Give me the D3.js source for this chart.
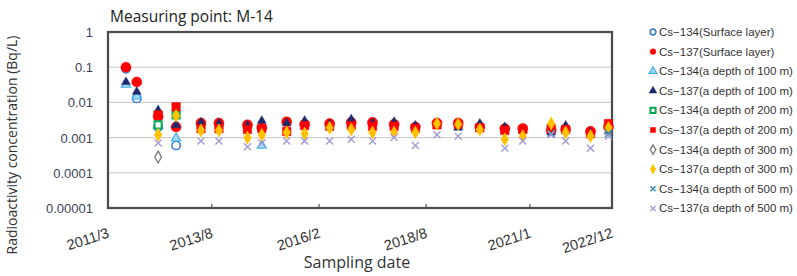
<!DOCTYPE html>
<html>
<head>
<meta charset="utf-8">
<script src="https://cdn.jsdelivr.net/npm/d3@7"></script>
<style>
  html, body { margin: 0; padding: 0; background: #fff; }
  svg { display: block; }
</style>
</head>
<body>
<script>
// SAMPLING DATES (year-month)
const dates = ["2011-08","2011-11","2012-05","2012-10","2013-05","2013-10","2014-06","2014-10",
  "2015-05","2015-10","2016-05","2016-11","2017-05","2017-11","2018-05","2018-11",
  "2019-05","2019-11","2020-06","2020-11","2021-07","2021-11","2022-06","2022-11"];

// VALUES IN Bq/L, null = not detected
const cs134Surface = [0.09, 0.013, 0.002, 0.0006, null, null, null, null, null, null, null, null,
  null, null, null, null, null, null, null, null, null, null, null, null];
const cs137Surface = [0.1, 0.038, 0.004, 0.002, 0.0026, 0.0026, 0.0023, 0.0019, 0.0028, 0.0024, 0.0025, 0.0027,
  0.0027, 0.0024, 0.002, 0.0026, 0.0026, 0.002, 0.0018, 0.0018, 0.0016, 0.0017, 0.0015, 0.002];
const cs134D100 = [0.032, 0.015, 0.0022, 0.00095, null, null, null, 0.0006, null, null, null, null,
  null, null, null, null, null, null, null, null, null, null, null, null];
const cs137D100 = [0.038, 0.02, 0.006, 0.0023, 0.0027, 0.0025, 0.0022, 0.003, 0.0026, 0.003, 0.0024, 0.0033,
  0.0026, 0.0028, 0.0022, 0.0026, 0.0019, 0.0025, 0.002, 0.0016, 0.0014, 0.0022, 0.0014, 0.0015];
const cs134D200 = [null, null, 0.0023, 0.0044, null, null, null, null, null, null, null, null,
  null, null, null, null, null, null, null, null, null, null, null, null];
const cs137D200 = [null, null, 0.0044, 0.0075, 0.0018, 0.0018, 0.0017, 0.0018, 0.0015, 0.0022, 0.0021, 0.0022,
  0.0021, 0.0021, 0.0018, 0.0023, 0.0024, 0.0019, 0.0016, 0.0017, 0.0018, 0.0017, 0.0013, 0.0025];
const cs134D300 = [null, null, 0.00028, null, null, null, null, null, null, null, null, null,
  null, null, null, null, null, null, null, null, null, null, null, null];
const cs137D300 = [null, null, 0.0012, 0.0042, 0.0016, 0.0016, 0.001, 0.0012, 0.0014, 0.0013, 0.0019, 0.0017,
  0.0014, 0.0014, 0.0014, 0.0025, 0.0024, 0.0017, 0.0009, 0.0011, 0.0025, 0.0014, 0.0011, 0.0019];
const cs134D500 = [null, null, null, null, null, null, null, null, null, null, null, null,
  null, null, null, null, null, null, null, null, 0.0013, null, null, 0.0013];
const cs137D500 = [null, null, 0.0007, null, 0.0008, 0.0008, 0.00055, 0.0007, 0.0008, 0.0008, 0.0008, 0.0009,
  0.0008, 0.001, 0.0006, 0.0012, 0.0011, null, 0.0005, 0.0008, 0.0012, 0.0008, 0.0005, 0.0011];

// LEGEND LABELS
const seriesNames = ["Cs\u2212134(Surface layer)", "Cs\u2212137(Surface layer)",
  "Cs\u2212134(a depth of 100 m)", "Cs\u2212137(a depth of 100 m)",
  "Cs\u2212134(a depth of 200 m)", "Cs\u2212137(a depth of 200 m)",
  "Cs\u2212134(a depth of 300 m)", "Cs\u2212137(a depth of 300 m)",
  "Cs\u2212134(a depth of 500 m)", "Cs\u2212137(a depth of 500 m)"];

// AXIS TICKS
const yTicks = [1, 0.1, 0.01, 0.001, 0.0001, 0.00001];
const yTickLabels = ["1", "0.1", "0.01", "0.001", "0.0001", "0.00001"];
const xTicks = ["2011-03", "2013-08", "2016-02", "2018-08", "2021-01", "2022-12"];
const xTickLabels = ["2011/3", "2013/8", "2016/2", "2018/8", "2021/1", "2022/12"];

const values = [cs134Surface, cs137Surface, cs134D100, cs137D100, cs134D200,
  cs137D200, cs134D300, cs137D300, cs134D500, cs137D500];

// MARKER STYLES, one per series
const styles = [
  {shape: d3.symbolCircle, size: 55, fill: "#fff", stroke: "#3d7fd9", sw: 1.6},
  {shape: d3.symbolCircle, size: 80, fill: "#ff0000", stroke: "#ff0000", sw: 0.5},
  {shape: d3.symbolTriangle, size: 36, fill: "#a6dcf7", stroke: "#45b0e8", sw: 1.2},
  {shape: d3.symbolTriangle, size: 34, fill: "#1c2a6e", stroke: "#1c2a6e", sw: 0.5},
  {shape: d3.symbolSquare, size: 50, fill: "#fff", stroke: "#00a84f", sw: 2},
  {shape: d3.symbolSquare, size: 72, fill: "#ff0000", stroke: "#ff0000", sw: 0.5},
  {shape: d3.symbolDiamond, size: 40, fill: "#fff", stroke: "#7a7a7a", sw: 1.3},
  {shape: d3.symbolDiamond, size: 50, fill: "#ffc000", stroke: "#ffc000", sw: 0.5},
  {shape: "x", size: 3.5, fill: "none", stroke: "#3a8fb0", sw: 1.5},
  {shape: "x", size: 3.5, fill: "none", stroke: "#a39ad6", sw: 1.4}
];

const width = 797, height = 276;
const plotLeft = 108, plotRight = 612, plotTop = 32, plotBottom = 208;
const parse = d3.timeParse("%Y-%m");

const svg = d3.select("body").append("svg")
  .attr("width", width).attr("height", height)
  .style("font-family", "'Liberation Sans', Arial, sans-serif");

const x = d3.scaleTime().domain([parse("2011-03"), parse("2022-12")]).range([plotLeft, plotRight]);
const y = d3.scaleLog().domain([0.00001, 1]).range([plotBottom, plotTop]);

//GRIDLINES
svg.append("g").selectAll("line").data(yTicks.slice(1, -1)).join("line")
  .attr("x1", plotLeft).attr("x2", plotRight)
  .attr("y1", d => y(d)).attr("y2", d => y(d))
  .attr("stroke", "#c8c8c8").attr("stroke-width", 1);

//Y TICK LABELS
svg.append("g").selectAll("text").data(yTicks).join("text")
  .attr("x", 93).attr("y", d => y(d) + 5)
  .attr("text-anchor", "end").attr("font-size", 13).attr("fill", "#3a3f55")
  .text((d, i) => yTickLabels[i]);

//X TICKS AND LABELS
svg.append("g").selectAll("line").data(xTicks.slice(1, -1)).join("line")
  .attr("x1", d => x(parse(d))).attr("x2", d => x(parse(d)))
  .attr("y1", plotBottom).attr("y2", plotBottom - 4)
  .attr("stroke", "#555").attr("stroke-width", 1.2);

svg.append("g").selectAll("text").data(xTicks).join("text")
  .attr("transform", d => `translate(${x(parse(d)) + 2},${plotBottom + 29}) rotate(-18)`)
  .attr("text-anchor", "end").attr("font-size", 14.5).attr("fill", "#333")
  .text((d, i) => xTickLabels[i]);

//FRAME
svg.append("rect").attr("x", plotLeft).attr("y", plotTop)
  .attr("width", plotRight - plotLeft).attr("height", plotBottom - plotTop)
  .attr("fill", "none").attr("stroke", "#4a4a4a").attr("stroke-width", 2.2);

//POINTS
function drawMarker(g, st) {
  if (st.shape === "x") {
    const s = st.size;
    g.append("path").attr("d", `M${-s},${-s}L${s},${s}M${-s},${s}L${s},${-s}`)
      .attr("stroke", st.stroke).attr("stroke-width", st.sw).attr("fill", "none");
  } else {
    g.append("path").attr("d", d3.symbol(st.shape, st.size)())
      .attr("fill", st.fill).attr("stroke", st.stroke).attr("stroke-width", st.sw);
  }
}

values.forEach((vals, i) => {
  const pts = dates.map((d, j) => ({date: parse(d), v: vals[j]})).filter(p => p.v !== null);
  const g = svg.append("g");
  pts.forEach(p => {
    const m = g.append("g").attr("transform", `translate(${x(p.date)},${y(p.v)})`);
    drawMarker(m, styles[i]);
  });
});

//TITLES
svg.append("text").attr("x", 110).attr("y", 22)
  .attr("font-family", "'Open Sans', sans-serif").attr("font-size", 15.5).attr("fill", "#222")
  .text("Measuring point: M-14");

svg.append("text").attr("transform", "translate(17,145) rotate(-90)")
  .attr("text-anchor", "middle")
  .attr("font-family", "'Open Sans', sans-serif").attr("font-size", 14).attr("fill", "#333")
  .text("Radioactivity concentration (Bq/L)");

svg.append("text").attr("x", 357).attr("y", 268)
  .attr("text-anchor", "middle")
  .attr("font-family", "'Open Sans', sans-serif").attr("font-size", 16).attr("fill", "#333")
  .text("Sampling date");

//LEGEND
const legend = svg.append("g").attr("transform", "translate(653,32)");
seriesNames.forEach((name, i) => {
  const row = legend.append("g").attr("transform", `translate(0,${i * 19.6})`);
  const st = Object.assign({}, styles[i]);
  st.size = st.shape === "x" ? 2.5 : 26;
  drawMarker(row, st);
  row.append("text").attr("x", 6).attr("y", 4)
    .attr("font-size", 11.5).attr("fill", "#333")
    .text(name);
});
</script>
</body>
</html>
